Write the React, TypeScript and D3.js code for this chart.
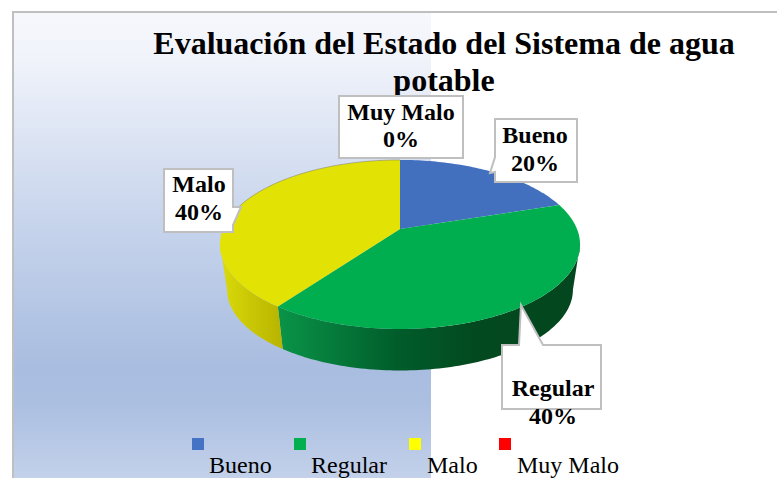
import React from "react";
import * as d3 from "d3";

const categories = ["Bueno", "Regular", "Malo", "Muy Malo"];
const values = [20, 40, 40, 0];
const percentLabels = ["20%", "40%", "40%", "0%"];
const titleLines = ["Evaluación del Estado del Sistema de agua", "potable"];

const topColors = ["#4270BF", "#00AE50", "#E2E204", "#FF0000"];
const legendColors = ["#4472C4", "#00B050", "#FFFF00", "#FF0000"];

const SERIF = "'Liberation Serif', serif";
const persp = 0.183;
const topRim = { cx: 400, cy: 229, a: 177, b: 81.7 };
const botRim = { cx: 400, cy: 275, a: 170, b: 78 };

type Rim = typeof topRim;
const project = (r: Rim, t: number): [number, number] => {
  const X = Math.sin(t);
  const Y = -Math.cos(t);
  const w = 1 - persp * Y;
  return [r.cx + (r.a * X) / w, r.cy + (r.b * Y) / w];
};
const samples = (a0: number, a1: number) => {
  const n = Math.max(2, Math.ceil(Math.abs(a1 - a0) / 0.02));
  return d3.range(n + 1).map((i) => a0 + ((a1 - a0) * i) / n);
};
const line = d3.line<[number, number]>();

const slices = d3.pie<number>().sort(null).value((d) => d)(values);
const silhouette = Math.acos(-persp);

const topPath = (a0: number, a1: number) =>
  line([[topRim.cx, topRim.cy], ...samples(a0, a1).map((t) => project(topRim, t))])! + "Z";
const wallPath = (a0: number, a1: number) =>
  line([
    ...samples(a0, a1).map((t) => project(topRim, t)),
    ...samples(a1, a0).map((t) => project(botRim, t)),
  ])! + "Z";

const wallRanges = [
  { index: 1, a0: Math.max(slices[1].startAngle, silhouette), a1: slices[1].endAngle, fill: "url(#wallGreen)" },
  { index: 2, a0: slices[2].startAngle, a1: 2 * Math.PI - silhouette, fill: "url(#wallYellow)" },
];

const callouts = [
  { i: 3, d: "M339,96H463V158H339Z", tx: 401, y1: 120, y2: 147 },
  { i: 0, d: "M495,119H577V182H495V172L490,173L495,157Z", tx: 535, y1: 143, y2: 171 },
  { i: 2, d: "M164,169H233V207H241L233,225V232H164Z", tx: 199, y1: 192, y2: 220 },
  { i: 1, d: "M502,345H519L521,305L543,345H601V409H502Z", tx: 553, y1: 396, y2: 424 },
];
const legendX = [192, 294, 409, 499];
const legendTextX = [209, 311, 427, 517];

export default function App() {
  return (
    <svg
      width={777}
      height={478}
      viewBox="0 0 777 478"
      style={{ position: "fixed", left: 0, top: 0, background: "#fff" }}
    >
      <defs>
        <linearGradient id="panel" x1="0" y1="12" x2="0" y2="478" gradientUnits="userSpaceOnUse">
          <stop offset="0" stopColor="#F6F8FC" />
          <stop offset="0.1" stopColor="#F0F3FA" />
          <stop offset="0.45" stopColor="#C7D4EC" />
          <stop offset="0.76" stopColor="#A9BDE0" />
          <stop offset="0.84" stopColor="#ABBFE1" />
          <stop offset="1" stopColor="#C3D1EA" />
        </linearGradient>
        <linearGradient id="wallGreen" x1="278" y1="0" x2="580" y2="0" gradientUnits="userSpaceOnUse">
          <stop offset="0" stopColor="#0A9448" />
          <stop offset="0.4" stopColor="#005C2A" />
          <stop offset="0.65" stopColor="#03491F" />
          <stop offset="1" stopColor="#03461F" />
        </linearGradient>
        <linearGradient id="wallYellow" x1="222" y1="0" x2="282" y2="0" gradientUnits="userSpaceOnUse">
          <stop offset="0" stopColor="#D9D90A" />
          <stop offset="1" stopColor="#B8B400" />
        </linearGradient>
      </defs>

      <rect x={14} y={13} width={417} height={465} fill="url(#panel)" />
      <path d="M13,478V12H777" fill="none" stroke="#BFBFBF" strokeWidth={2} />

      <g fontFamily={SERIF} fontWeight="bold" fontSize={32} fill="#000" textAnchor="middle">
        <text x={444} y={54}>{titleLines[0]}</text>
        <text x={444} y={91}>{titleLines[1]}</text>
      </g>

      {wallRanges.map((w) => (
        <path key={w.index} d={wallPath(w.a0, w.a1)} fill={w.fill} />
      ))}
      {slices.map((s, i) =>
        s.endAngle > s.startAngle ? (
          <path key={i} d={topPath(s.startAngle, s.endAngle)} fill={topColors[i]} />
        ) : null
      )}
      <path
        d={line(samples(slices[2].endAngle - 1.3, slices[2].endAngle).map((t) => project(topRim, t)))!}
        fill="none"
        stroke="#8A8A70"
        strokeWidth={0.6}
      />

      {callouts.map((c) => (
        <g key={c.i}>
          <path d={c.d} fill="#fff" stroke="#BFBFBF" strokeWidth={2} />
          <g fontFamily={SERIF} fontWeight="bold" fontSize={24} fill="#000" textAnchor="middle">
            <text x={c.tx} y={c.y1}>{categories[c.i]}</text>
            <text x={c.tx} y={c.y2}>{percentLabels[c.i]}</text>
          </g>
        </g>
      ))}

      {categories.map((c, i) => (
        <g key={c}>
          <rect x={legendX[i]} y={438} width={12} height={12} fill={legendColors[i]} />
          <text x={legendTextX[i]} y={473} fontFamily={SERIF} fontSize={24} fill="#000">
            {c}
          </text>
        </g>
      ))}
    </svg>
  );
}
